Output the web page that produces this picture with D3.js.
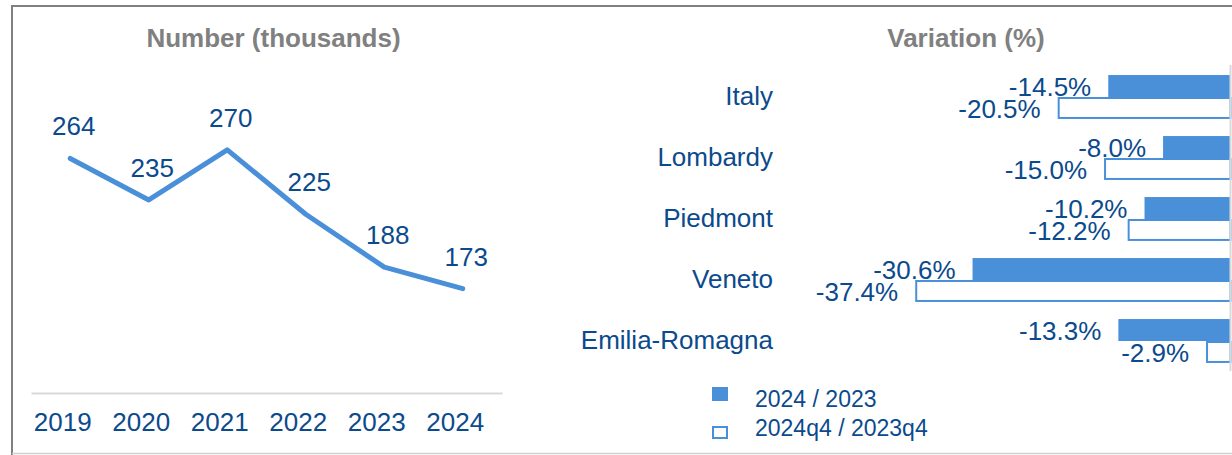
<!DOCTYPE html>
<html>
<head>
<meta charset="utf-8">
<script src="https://cdn.jsdelivr.net/npm/d3@7"></script>
<style>
  html, body { margin: 0; padding: 0; background: #fff; }
  svg { display: block; font-family: "Liberation Sans", Arial, sans-serif; }
</style>
</head>
<body>
<svg id="chart" width="1232" height="455"></svg>
<script>
// ---- data ----
const years = ["2019", "2020", "2021", "2022", "2023", "2024"];
const numbers = [264, 235, 270, 225, 188, 173];

const regions = ["Italy", "Lombardy", "Piedmont", "Veneto", "Emilia-Romagna"];
const annualVar = [-14.5, -8.0, -10.2, -30.6, -13.3];
const q4Var = [-20.5, -15.0, -12.2, -37.4, -2.9];
const seriesNames = ["2024 / 2023", "2024q4 / 2023q4"];

// ---- styles ----
const blue = "#4a90d9";
const textBlue = "#0b4a8c";
const titleGray = "#808080";

const svg = d3.select("#chart");
svg.append("rect").attr("width", 1232).attr("height", 455).attr("fill", "#fff");

// frame
svg.append("path").attr("d", "M12,455 L12,6 L1232,6")
  .attr("fill", "none").attr("stroke", "#808080").attr("stroke-width", 2);
svg.append("line").attr("x1", 12).attr("x2", 1232).attr("y1", 453.5).attr("y2", 453.5)
  .attr("stroke", "#d0d0d0").attr("stroke-width", 1.5);

// ---- left: line chart ----
const x = d3.scaleBand().domain(years).range([31, 502]);
const y = d3.scaleLinear().domain([100, 300]).range([393, 107]);

svg.append("text").attr("x", 273.5).attr("y", 47).attr("text-anchor", "middle")
  .attr("font-size", 26).attr("font-weight", "bold").attr("fill", titleGray)
  .text("Number (thousands)");

const xAxis = svg.append("g").attr("transform", "translate(0,393)")
  .call(d3.axisBottom(x).tickSize(0).tickSizeOuter(0).tickPadding(20));
xAxis.select(".domain").attr("stroke", "#d9d9d9").attr("stroke-width", 2);
xAxis.selectAll("text").attr("font-size", 26).attr("fill", textBlue).attr("dx", -7.5)
  .attr("font-family", "Liberation Sans, Arial, sans-serif");

const lineData = years.map((yr, i) => ({ yr, v: numbers[i] }));
const line = d3.line().x(d => x(d.yr) + x.bandwidth() / 2).y(d => y(d.v));
svg.append("path").datum(lineData).attr("d", line)
  .attr("fill", "none").attr("stroke", blue).attr("stroke-width", 5)
  .attr("stroke-linecap", "round").attr("stroke-linejoin", "round");

svg.selectAll(".numlabel").data(lineData).enter().append("text")
  .attr("x", d => x(d.yr) + x.bandwidth() / 2 + 3.5)
  .attr("y", d => y(d.v) - 23)
  .attr("text-anchor", "middle").attr("font-size", 26).attr("fill", textBlue)
  .text(d => d.v);

// ---- right: bar chart ----
svg.append("text").attr("x", 966).attr("y", 47).attr("text-anchor", "middle")
  .attr("font-size", 26).attr("font-weight", "bold").attr("fill", titleGray)
  .text("Variation (%)");

const yR = d3.scaleBand().domain(regions).range([66.5, 371.5])
  .paddingInner(0.28).paddingOuter(0.14);
const sub = d3.scaleBand().domain(seriesNames).range([0, yR.bandwidth()]);
const xR = d3.scaleLinear().domain([-40, 0]).range([893.3, 1230.5]);

const barData = regions.map((r, i) => ({ r, a: annualVar[i], q: q4Var[i] }));

// filled bars (annual)
svg.selectAll(".barA").data(barData).enter().append("rect")
  .attr("x", d => xR(d.a)).attr("y", d => yR(d.r) + sub(seriesNames[0]))
  .attr("width", d => xR(0) - xR(d.a)).attr("height", sub.bandwidth())
  .attr("fill", blue);

// outline bars (q4)
svg.selectAll(".barQ").data(barData).enter().append("rect")
  .attr("x", d => xR(d.q) + 1).attr("y", d => yR(d.r) + sub(seriesNames[1]) + 1)
  .attr("width", d => xR(0) - xR(d.q) - 1).attr("height", sub.bandwidth() - 2)
  .attr("fill", "#fff").attr("stroke", blue).attr("stroke-width", 2);

// zero line
svg.append("line").attr("x1", xR(0)).attr("x2", xR(0)).attr("y1", 65).attr("y2", 371)
  .attr("stroke", "#d9d9d9").attr("stroke-width", 2);

const fmt = v => v.toFixed(1) + "%";
svg.selectAll(".labA").data(barData).enter().append("text")
  .attr("x", d => xR(d.a) - 17).attr("y", d => yR(d.r) + sub(seriesNames[0]) + sub.bandwidth() - 1)
  .attr("text-anchor", "end").attr("font-size", 26).attr("fill", textBlue)
  .text(d => fmt(d.a));
svg.selectAll(".labQ").data(barData).enter().append("text")
  .attr("x", d => xR(d.q) - 17).attr("y", d => yR(d.r) + sub(seriesNames[1]) + sub.bandwidth() - 1)
  .attr("text-anchor", "end").attr("font-size", 26).attr("fill", textBlue)
  .text(d => fmt(d.q));

// category labels
svg.selectAll(".cat").data(regions).enter().append("text")
  .attr("x", 773).attr("y", d => yR(d) + yR.bandwidth() / 2 + 7.5)
  .attr("text-anchor", "end").attr("font-size", 26).attr("fill", textBlue)
  .text(d => d);

// legend
svg.append("rect").attr("x", 712).attr("y", 387).attr("width", 16).attr("height", 14).attr("fill", blue);
svg.append("rect").attr("x", 713).attr("y", 427).attr("width", 14).attr("height", 11)
  .attr("fill", "#fff").attr("stroke", blue).attr("stroke-width", 2);
svg.append("text").attr("x", 755).attr("y", 407).attr("font-size", 23).attr("fill", textBlue).text(seriesNames[0]);
svg.append("text").attr("x", 755).attr("y", 436).attr("font-size", 23).attr("fill", textBlue).text(seriesNames[1]);
</script>
</body>
</html>
